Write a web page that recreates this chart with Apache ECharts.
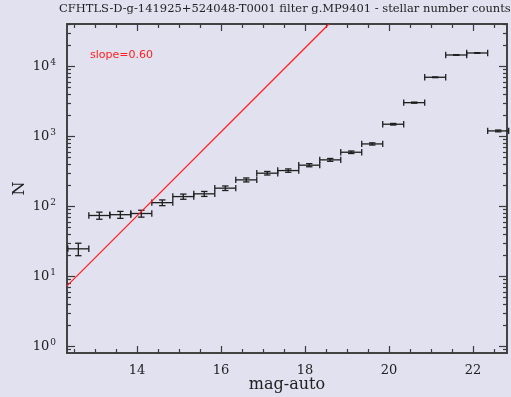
<!DOCTYPE html>
<html><head><meta charset="utf-8">
<script src="https://cdn.jsdelivr.net/npm/echarts@6/dist/echarts.min.js"></script>
<style>html,body{margin:0;padding:0;background:#e1e1f0}#c{width:511px;height:397px}</style>
</head><body><div id="c"></div>
<script>
const titleText = 'CFHTLS-D-g-141925+524048-T0001 filter g.MP9401 - stellar number counts';
const xName = 'mag-auto';
const yName = 'N';
const slopeText = 'slope=0.60';
const mags   = [12.6, 13.1, 13.6, 14.1, 14.6, 15.1, 15.6, 16.1, 16.6, 17.1, 17.6, 18.1, 18.6, 19.1, 19.6, 20.1, 20.6, 21.1, 21.6, 22.1, 22.6];
const counts = [24.7, 74, 76, 79, 113, 138, 151, 182, 239, 298, 325, 388, 462, 594, 781, 1494, 3040, 7010, 14600, 15600, 1199];
const countErr = [5, 8.6, 8.7, 8.9, 10.6, 11.7, 12.3, 13.5, 15.5, 17.3, 18, 19.7, 21.5, 24.4, 28, 38.7, 55, 84, 121, 125, 34.6];
const binHalfWidth = [0.25, 0.25, 0.25, 0.25, 0.25, 0.25, 0.25, 0.25, 0.25, 0.25, 0.25, 0.25, 0.25, 0.25, 0.25, 0.25, 0.25, 0.25, 0.25, 0.25, 0.25];
const fitMag = [12.33, 18.57];
const fitN = [7.3, 40500];
const xMajorTicks = [14, 16, 18, 20, 22];
const xMinorTicks = [12.5, 13, 13.5, 14.5, 15, 15.5, 16.5, 17, 17.5, 18.5, 19, 19.5, 20.5, 21, 21.5, 22.5];
const yMajorTicks = [1, 10, 100, 1000, 10000];
const yMinorTicks = [0.9, 2, 3, 4, 5, 6, 7, 8, 9, 20, 30, 40, 50, 60, 70, 80, 90,
  200, 300, 400, 500, 600, 700, 800, 900, 2000, 3000, 4000, 5000, 6000, 7000, 8000, 9000, 20000, 30000, 40000];

const X_MIN = 12.33, X_MAX = 22.81, Y_MIN = 0.8, Y_MAX = 40500;
const AX = '#3a3a3a';
const SERIF = '"DejaVu Serif", serif';

function xAxisDef(pos, ticks, len, showLabel) {
  return {
    type: 'value', position: pos, min: X_MIN, max: X_MAX,
    axisLine: {show: true, lineStyle: {color: AX, width: 1.5}},
    splitLine: {show: false},
    axisTick: {show: true, inside: true, length: len, customValues: ticks, lineStyle: {color: AX, width: 1.2}},
    axisLabel: showLabel ? {show: true, customValues: ticks, fontFamily: SERIF, fontSize: 13, color: '#222', margin: 11} : {show: false},
    name: showLabel ? xName : '', nameLocation: 'middle', nameGap: 24, nameMoveOverlap: false,
    nameTextStyle: {fontFamily: SERIF, fontSize: 16, color: '#222'}
  };
}
function yAxisDef(pos, ticks, len, showLabel) {
  return {
    type: 'log', logBase: 10, position: pos, min: Y_MIN, max: Y_MAX,
    axisLine: {show: true, lineStyle: {color: AX, width: 1.5}},
    splitLine: {show: false},
    axisTick: {show: true, inside: true, length: len, customValues: ticks, lineStyle: {color: AX, width: 1.2}},
    axisLabel: showLabel ? {
      show: true, customValues: ticks, margin: 11,
      formatter: v => '{b|10}{s|' + Math.round(Math.log10(v)) + '}',
      rich: {
        b: {fontFamily: SERIF, fontSize: 13, color: '#222', lineHeight: 16},
        s: {fontFamily: SERIF, fontSize: 9, color: '#222', verticalAlign: 'top', lineHeight: 16, padding: [0, 0, 6, 1]}
      }
    } : {show: false},
    name: showLabel ? yName : '', nameLocation: 'middle', nameGap: 39, nameMoveOverlap: false,
    nameTextStyle: {fontFamily: SERIF, fontSize: 16, color: '#222'}
  };
}

function renderItem(params, api) {
  const m = api.value(0), n = api.value(1), e = api.value(2), h = api.value(3);
  const pL = api.coord([m - h, n]), pR = api.coord([m + h, n]);
  const pT = api.coord([m, n + e]), pB = api.coord([m, n - e]);
  const cap = 3.2;
  const style = {stroke: '#1e1e1e', lineWidth: 1.3, fill: null};
  const L = (x1, y1, x2, y2) => ({type: 'line', shape: {x1, y1, x2, y2}, style});
  return {type: 'group', children: [
    L(pL[0], pL[1], pR[0], pR[1]),
    L(pL[0], pL[1] - cap, pL[0], pL[1] + cap),
    L(pR[0], pR[1] - cap, pR[0], pR[1] + cap),
    L(pT[0], pT[1], pB[0], pB[1]),
    L(pT[0] - cap, pT[1], pT[0] + cap, pT[1]),
    L(pB[0] - cap, pB[1], pB[0] + cap, pB[1])
  ]};
}

const chart = echarts.init(document.getElementById('c'));
chart.setOption({
  backgroundColor: '#e1e1f0',
  animation: false,
  title: {text: titleText, left: 59, top: 3, padding: 0, textStyle: {fontFamily: SERIF, fontSize: 11.5, fontWeight: 'normal', color: '#222'}},
  grid: {left: 67, right: 4, top: 24, bottom: 44, outerBoundsMode: 'none', containLabel: false},
  xAxis: [
    xAxisDef('bottom', xMajorTicks, 7, true),
    xAxisDef('bottom', xMinorTicks, 4, false),
    xAxisDef('top', xMajorTicks, 7, false),
    xAxisDef('top', xMinorTicks, 4, false)
  ],
  yAxis: [
    yAxisDef('left', yMajorTicks, 8, true),
    yAxisDef('left', yMinorTicks, 4, false),
    yAxisDef('right', yMajorTicks, 8, false),
    yAxisDef('right', yMinorTicks, 4, false)
  ],
  graphic: [{type: 'text', left: 90, top: 50, style: {text: slopeText, fill: '#ff2020', font: '11px "DejaVu Sans"'}}],
  series: [
    {
      type: 'line', xAxisIndex: 0, yAxisIndex: 0, symbol: 'none', clip: true,
      data: fitMag.map((m, i) => [m, fitN[i]]),
      lineStyle: {color: '#ff2020', width: 1.3}
    },
    {
      type: 'custom', xAxisIndex: 0, yAxisIndex: 0, renderItem,
      data: mags.map((m, i) => [m, counts[i], countErr[i], binHalfWidth[i]])
    }
  ]
});
</script></body></html>
